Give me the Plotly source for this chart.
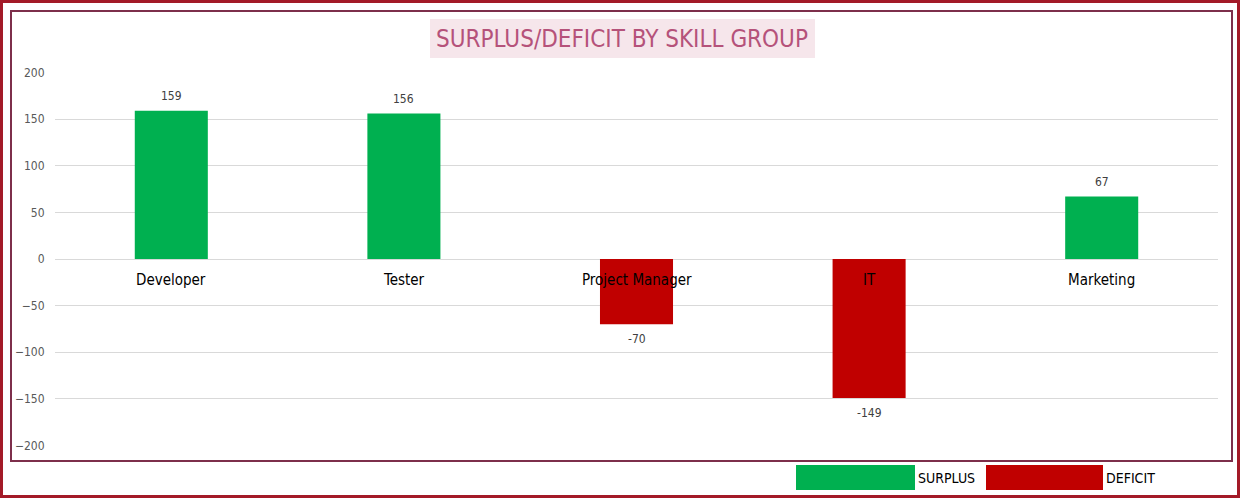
import plotly.graph_objects as go

# data
categories = ["Developer", "Tester", "Project Manager", "IT", "Marketing"]
surplus = [159, 156, 0, 0, 67]
deficit = [0, 0, -70, -149, 0]
net = [159, 156, -70, -149, 67]
y_ticks = [200, 150, 100, 50, 0, -50, -100, -150, -200]

W, H = 1240, 498
L, R, T, B = 55, 22, 72, 52
pw, ph = W - L - R, H - T - B


def px(x):
    return (x - L) / pw


def py(y):
    return (H - B - y) / ph


FONT = "DejaVu Sans Condensed, Liberation Sans Narrow, sans-serif"

fig = go.Figure()
fig.add_trace(go.Bar(x=categories, y=surplus, name="SURPLUS",
                     marker=dict(color="#00b050", line_width=0), width=0.314))
fig.add_trace(go.Bar(x=categories, y=deficit, name="DEFICIT",
                     marker=dict(color="#c00000", line_width=0), width=0.314))

annotations = []
# value labels
for cat, v in zip(categories, net):
    annotations.append(dict(
        x=cat, y=v, xref="x", yref="y", text=str(v), showarrow=False,
        yanchor="bottom" if v > 0 else "top", yshift=6 if v > 0 else -6,
        font=dict(size=12, color="#404040", family=FONT)))
# category labels next to the zero line
for cat in categories:
    annotations.append(dict(
        x=cat, y=0, xref="x", yref="y", text=cat, showarrow=False,
        yanchor="middle", yshift=-21,
        font=dict(size=15, color="#000000", family=FONT)))

# title
annotations.append(dict(
    x=px(622), y=py(39), xref="paper", yref="paper", text="SURPLUS/DEFICIT BY SKILL GROUP",
    showarrow=False, xanchor="center", yanchor="middle",
    font=dict(size=24, color="#b5527a", family=FONT)))

# legend text
annotations.append(dict(x=px(916), y=py(478), xref="paper", yref="paper", text="SURPLUS",
                        showarrow=False, xanchor="left", yanchor="middle",
                        font=dict(size=14, color="#000000", family=FONT)))
annotations.append(dict(x=px(1104), y=py(478), xref="paper", yref="paper", text="DEFICIT",
                        showarrow=False, xanchor="left", yanchor="middle",
                        font=dict(size=14, color="#000000", family=FONT)))

shapes = [
    # outer border
    dict(type="rect", xref="paper", yref="paper", x0=px(1.5), x1=px(W - 1.5), y0=py(1.5), y1=py(H - 1.5),
         line=dict(color="#a31a28", width=3)),
    # inner border
    dict(type="rect", xref="paper", yref="paper", x0=px(11), x1=px(1232), y0=py(11), y1=py(461),
         line=dict(color="#7d2f4b", width=2)),
    # title background
    dict(type="rect", xref="paper", yref="paper", x0=px(430), x1=px(815), y0=py(19), y1=py(58),
         fillcolor="#f6e6eb", line_width=0, layer="below"),
    # legend swatches
    dict(type="rect", xref="paper", yref="paper", x0=px(796), x1=px(915), y0=py(465), y1=py(490),
         fillcolor="#00b050", line_width=0),
    dict(type="rect", xref="paper", yref="paper", x0=px(986), x1=px(1103), y0=py(465), y1=py(490),
         fillcolor="#c00000", line_width=0),
]

fig.update_layout(
    width=W, height=H,
    margin=dict(l=L, r=R, t=T, b=B),
    paper_bgcolor="white", plot_bgcolor="white",
    barmode="overlay", showlegend=False,
    font=dict(family=FONT),
    annotations=annotations, shapes=shapes,
)
fig.update_xaxes(showticklabels=False, showgrid=False, zeroline=False, showline=False)
fig.update_yaxes(range=[-200.5, 200.5], tickvals=y_ticks, showgrid=True, gridcolor="#d9d9d9",
                 zeroline=True, zerolinecolor="#d9d9d9", zerolinewidth=1,
                 ticks="outside", ticklen=7, tickcolor="rgba(0,0,0,0)",
                 tickfont=dict(size=12, color="#595959", family=FONT))

fig.write_html("out.html", config={"displayModeBar": False},
               post_script="document.body.style.margin='0';document.body.style.overflow='hidden';")
